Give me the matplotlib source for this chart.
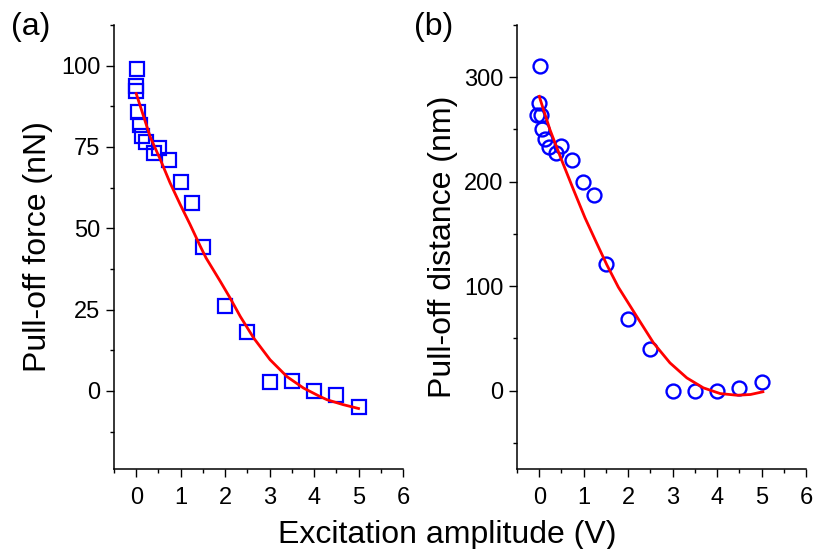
import numpy as np
import matplotlib
matplotlib.use("Agg")
import matplotlib.pyplot as plt
from matplotlib.ticker import MultipleLocator

plt.rcParams['font.family'] = ['Liberation Sans', 'DejaVu Sans']

# (a) pull-off force vs excitation amplitude
amp_a = [0.01, 0.0, 0.0, 0.04, 0.08, 0.13, 0.23, 0.39, 0.51, 0.74,
         1.0, 1.25, 1.5, 2.0, 2.5, 3.0, 3.5, 4.0, 4.5, 5.0]
force = [99.0, 93.8, 92.3, 85.8, 81.7, 78.4, 76.4, 73.3, 74.8, 71.0,
         64.3, 57.9, 44.2, 26.1, 18.2, 2.9, 3.2, 0.0, -1.4, -5.0]
# fitted curve
fit_amp_a = [0.0, 0.32, 0.54, 0.76, 0.99, 1.21, 1.44, 1.57, 1.89, 2.11,
             2.34, 2.64, 3.01, 3.39, 3.76, 4.13, 4.29, 4.65, 5.0]
fit_force = [91.4, 77.9, 71.2, 64.0, 57.3, 51.2, 44.5, 40.9, 33.7, 28.6,
             22.9, 16.3, 9.6, 4.4, 0.9, -1.7, -2.7, -4.2, -5.4]

# (b) pull-off distance vs excitation amplitude
amp_b = [0.02, 0.0, -0.04, 0.05, 0.07, 0.13, 0.23, 0.38, 0.5, 0.73,
         0.99, 1.24, 1.5, 2.0, 2.5, 3.0, 3.5, 4.0, 4.5, 5.0]
dist = [310.5, 275.5, 263.6, 263.6, 250.6, 241.0, 233.4, 227.7, 234.6, 221.2,
        199.5, 187.7, 121.4, 68.4, 39.9, 0.0, 0.0, 0.0, 2.3, 8.4]
fit_amp_b = [0.0, 0.24, 0.5, 0.77, 1.03, 1.29, 1.52, 1.78, 2.19,
             2.57, 2.94, 3.32, 3.69, 4.07, 4.45, 4.75, 5.03]
fit_dist = [281.7, 249.9, 221.1, 192.4, 165.4, 141.4, 120.5, 99.0, 71.2,
            45.7, 26.6, 12.2, 2.7, -2.8, -4.4, -3.7, -1.1]

fig = plt.figure(figsize=(8.15, 5.49), dpi=100)
ax1 = fig.add_axes([114 / 815, 80 / 549, 289 / 815, 444 / 549])
ax2 = fig.add_axes([517 / 815, 80 / 549, 289 / 815, 444 / 549])


def style_axis(ax):
    for side in ('top', 'right'):
        ax.spines[side].set_visible(False)
    for side in ('left', 'bottom'):
        ax.spines[side].set_linewidth(1.1)
    ax.tick_params(which='major', direction='out', length=5.8, width=1.0,
                   labelsize=17, pad=4)
    ax.tick_params(which='minor', direction='out', length=3.2, width=1.0)
    ax.tick_params(axis='x', which='major', pad=7)
    ax.set_xlim(-0.5, 6)
    ax.xaxis.set_major_locator(MultipleLocator(1))
    ax.xaxis.set_minor_locator(MultipleLocator(0.5))


ax1.plot(amp_a, force, 's', ms=9.5, mfc='none', mec='#0000FF', mew=1.6)
ax1.plot(fit_amp_a, fit_force, '-', color='#FF0000', lw=2)
style_axis(ax1)
ax1.set_ylim(-24, 112.5)
ax1.yaxis.set_major_locator(MultipleLocator(25))
ax1.yaxis.set_minor_locator(MultipleLocator(12.5))
ax1.set_ylabel("Pull-off force (nN)", fontsize=23, labelpad=6)

ax2.plot(amp_b, dist, 'o', ms=10, mfc='none', mec='#0000FF', mew=1.7)
ax2.plot(fit_amp_b, fit_dist, '-', color='#FF0000', lw=2)
style_axis(ax2)
ax2.set_ylim(-75, 350)
ax2.yaxis.set_major_locator(MultipleLocator(100))
ax2.yaxis.set_minor_locator(MultipleLocator(50))
ax2.set_ylabel("Pull-off distance (nm)", fontsize=23, labelpad=4)

fig.text(447 / 815, 1 - 535 / 549, "Excitation amplitude (V)", fontsize=23,
         ha='center', va='center')
fig.text(31 / 815, 1 - 27 / 549, "(a)", fontsize=23, ha='center', va='center')
fig.text(434 / 815, 1 - 27 / 549, "(b)", fontsize=23, ha='center', va='center')

fig.savefig("out.png", dpi=100)
